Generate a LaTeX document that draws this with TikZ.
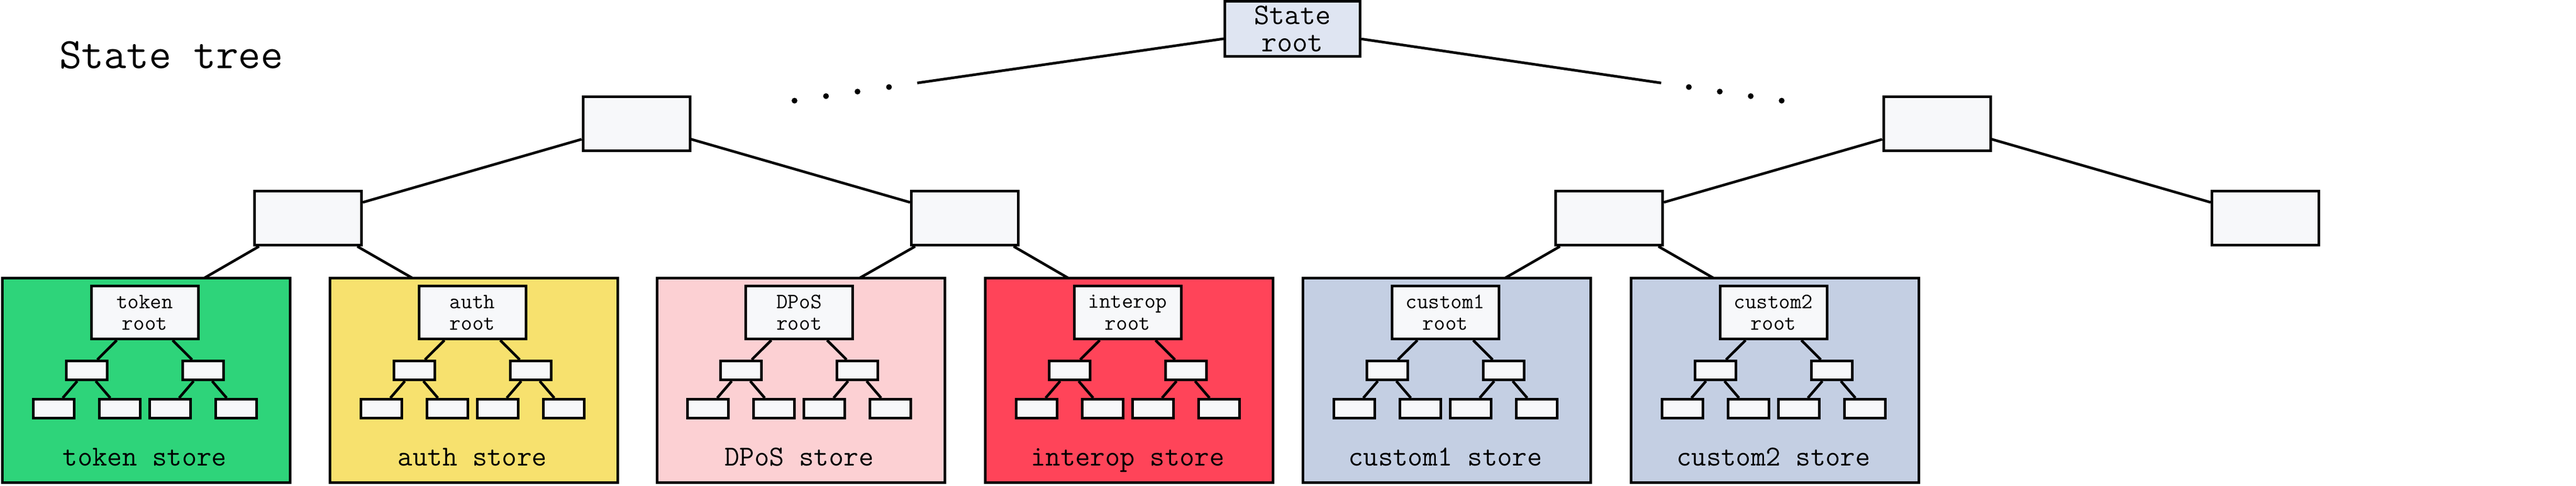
\documentclass[tikz,border=0pt]{standalone}
\usepackage{fontspec}
\usepackage{tikz}
\usetikzlibrary{positioning, backgrounds, calc}
\definecolor{nodefill}{HTML}{F7F8FA}
\definecolor{rootfill}{HTML}{DFE5F2}
\definecolor{tokengreen}{HTML}{2ED47A}
\definecolor{authyellow}{HTML}{F7E16E}
\definecolor{dposrose}{HTML}{FCD0D3}
\definecolor{interopred}{HTML}{FF4459}
\definecolor{customblue}{HTML}{C4CFE3}
\tikzset{
  every on background layer/.style={line width=0.5mm},
  treenode/.style={draw, fill=nodefill, line width=0.5mm, minimum width=20.4mm, minimum height=10.3mm, inner sep=0pt},
  storebox/.style={draw, line width=0.5mm, minimum width=54.9mm, minimum height=39mm, inner sep=0pt},
  storeroot/.style={treenode, minimum height=10.1mm, align=center, font=\fontsize{11.9}{11.7}\selectfont\ttfamily},
  subnode/.style={draw, fill=nodefill, line width=0.5mm, minimum width=7.8mm, minimum height=3.6mm, inner sep=0pt},
  storelabel/.style={anchor=base, font=\fontsize{15.7}{17}\selectfont\ttfamily}
}

\begin{document}
\begin{tikzpicture}[x=1mm, y=-1mm, line width=0.5mm]
\useasboundingbox (0,0) rectangle (491.4,92.6);

% upper part of the tree
\node[treenode, fill=rootfill, minimum width=25.8mm, minimum height=10.5mm, align=center, font=\fontsize{16.2}{15}\selectfont\ttfamily] (sroot) at (246.55,5.5) {State\\root};
\node[treenode] (l2a) at (121.4,23.55) {};
\node[treenode] (l2b) at (369.5,23.55) {};
\node[treenode] (l3a) at (58.75,41.6) {};
\node[treenode] (l3b) at (184.05,41.6) {};
\node[treenode] (l3c) at (306.95,41.6) {};
\node[treenode] (l3d) at (432.15,41.6) {};
\node[anchor=base west, font=\fontsize{23.6}{26}\selectfont\ttfamily] (title) at (9.9,13.0) {State tree};

\coordinate (lcut) at ($(sroot)!0.572!(l2a)$);
\coordinate (rcut) at ($(sroot)!0.572!(l2b)$);
\draw (sroot) -- (lcut);
\draw (sroot) -- (rcut);
\foreach \f in {0.615,0.663,0.711,0.759} {
  \fill ($(sroot)!\f!(l2a)$) circle (0.55);
  \fill ($(sroot)!\f!(l2b)$) circle (0.55);
}
\draw (l2a) -- (l3a);
\draw (l2a) -- (l3b);
\draw (l2b) -- (l3c);
\draw (l2b) -- (l3d);

% one box per module store
\foreach \cx/\col/\sname in {27.9/tokengreen/token, 90.4/authyellow/auth, 152.75/dposrose/DPoS, 215.4/interopred/interop, 276.0/customblue/custom1, 338.6/customblue/custom2} {
  \node[storebox, fill=\col] (\sname-box) at (\cx,72.55) {};
  \node[storeroot] (\sname-root) at ({\cx-0.3},59.6) {\sname\\root};
  \node[subnode] (\sname-m1) at ({\cx-11.4},70.65) {};
  \node[subnode] (\sname-m2) at ({\cx+10.8},70.65) {};
  \node[subnode] (\sname-l1) at ({\cx-17.7},77.95) {};
  \node[subnode] (\sname-l2) at ({\cx-5.1},77.95) {};
  \node[subnode] (\sname-l3) at ({\cx+4.5},77.95) {};
  \node[subnode] (\sname-l4) at ({\cx+17.1},77.95) {};
  \node[storelabel] (\sname-label) at ({\cx-0.3},88.8) {\sname{} store};
  \draw (\sname-root) -- (\sname-m1);
  \draw (\sname-root) -- (\sname-m2);
  \draw (\sname-m1) -- (\sname-l1);
  \draw (\sname-m1) -- (\sname-l2);
  \draw (\sname-m2) -- (\sname-l3);
  \draw (\sname-m2) -- (\sname-l4);
}

\begin{scope}[on background layer]
\draw (l3a) -- (token-root);
\draw (l3a) -- (auth-root);
\draw (l3b) -- (DPoS-root);
\draw (l3b) -- (interop-root);
\draw (l3c) -- (custom1-root);
\draw (l3c) -- (custom2-root);
\end{scope}
\end{tikzpicture}
\end{document}
